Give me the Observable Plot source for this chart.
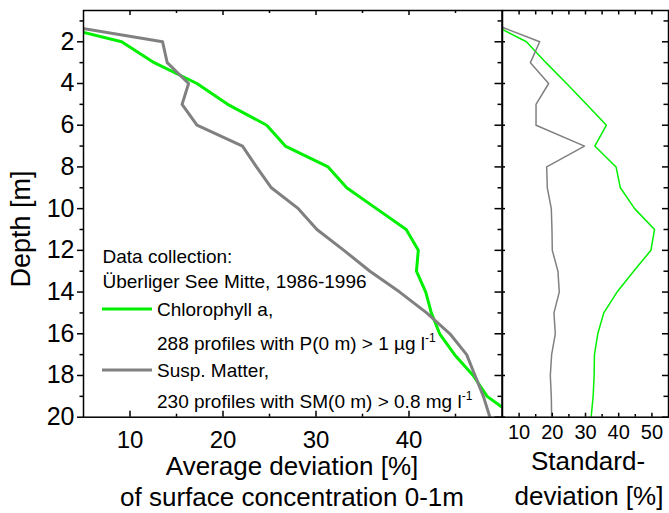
<!DOCTYPE html>
<html><head><meta charset="utf-8">
<script src="https://cdn.jsdelivr.net/npm/d3@7"></script>
<script src="https://cdn.jsdelivr.net/npm/@observablehq/plot@0.6"></script>
<style>
body{margin:0;background:#fff;}
#wrap{position:relative;width:669px;height:513px;overflow:hidden;background:#fff;font-family:"Liberation Sans",Arial,sans-serif;}
#wrap svg{position:absolute;top:0;}
</style></head><body><div id="wrap"></div>
<script>
// ---- data ----
const depths = [1,2,3,4,5,6,7,8,9,10,11,12,13,14,15,16,17,18,19,20];
const chlAvg = [0, 9.1, 12.6, 17.2, 20.5, 24.7, 26.7, 31.3, 33.3, 36.5, 39.7, 41.0, 40.8, 41.8, 42.4, 43.3, 44.9, 46.9, 48.4, 51.5];
const smAvg  = [0, 13.5, 14.0, 16.3, 15.6, 17.2, 22.1, 23.6, 25.2, 28.1, 30.1, 33.0, 35.8, 39.0, 41.9, 44.4, 46.2, 47.1, 48.0, 48.7];
const chlStd = [0, 12.2, 18.1, 24.3, 30.3, 36.3, 32.8, 39.2, 40.5, 44.8, 50.8, 49.7, 44.5, 39.5, 35.5, 33.7, 32.7, 32.6, 32.3, 31.7];
const smStd  = [0, 16.2, 13.4, 18.9, 15.1, 15.1, 29.7, 18.3, 18.5, 19.7, 19.9, 20.0, 21.7, 22.1, 20.5, 20.9, 19.8, 19.4, 19.7, 19.8];

const leftXTicks = [10, 20, 30, 40];
const leftXMinor = [15, 25, 35, 45];
const depthTicks = [2, 4, 6, 8, 10, 12, 14, 16, 18, 20];
const depthMinor = [1, 3, 5, 7, 9, 11, 13, 15, 17, 19];
const rightXTicks = [10, 20, 30, 40, 50];
const rightXMinor = [15, 25, 35, 45];

const GREEN = "#00f000", GRAY = "#808080";
const FONT = "'Liberation Sans', Arial, sans-serif";

const rows = (vals) => depths.map((d, i) => ({depth: d, value: vals[i]}));

// ---- layout ----
const H = 460, MT = 10, MB = 43.3;
const innerH = H - MT - MB;

// tick helpers (lengths in px)
const tTop = (vals, len) => Plot.tickX(vals, {x: d => d, insetBottom: innerH - len, stroke: "black", strokeWidth: 1.5});
const tBottom = (vals, len) => Plot.tickX(vals, {x: d => d, insetTop: innerH - len, stroke: "black", strokeWidth: 1.5});
const tLeftOut = (vals, len, innerW) => Plot.tickY(vals, {y: d => d, insetLeft: -len, insetRight: innerW, stroke: "black", strokeWidth: 1.5});
const tLeftIn = (vals, len, innerW) => Plot.tickY(vals, {y: d => d, insetRight: innerW - len, stroke: "black", strokeWidth: 1.5});
const tRightIn = (vals, len, innerW) => Plot.tickY(vals, {y: d => d, insetLeft: innerW - len, stroke: "black", strokeWidth: 1.5});

// ---- left panel ----
const LW = 503, LML = 83, LMR = 1.5;
const lInnerW = LW - LML - LMR;
const left = Plot.plot({
  width: LW, height: H, marginLeft: LML, marginRight: LMR, marginTop: MT, marginBottom: MB,
  style: {fontFamily: FONT, fontSize: "24px", background: "transparent", color: "black", overflow: "visible"},
  x: {domain: [5, 50], label: null},
  y: {domain: [0.5, 20], reverse: true, label: null},
  marks: [
    Plot.line(rows(chlAvg), {x: "value", y: "depth", stroke: GREEN, strokeWidth: 3, clip: true}),
    Plot.line(rows(smAvg), {x: "value", y: "depth", stroke: GRAY, strokeWidth: 3, clip: true}),
    Plot.frame({stroke: "black", strokeWidth: 1.5}),
    Plot.axisX(leftXTicks, {anchor: "bottom", tickSize: 0, tickPadding: 14, label: null, fontSize: 24}),
    Plot.axisY(depthTicks, {anchor: "left", tickSize: 6, tickPadding: 3, label: null, fontSize: 25, strokeWidth: 1.5}),
    tTop(leftXTicks, 5), tTop(leftXMinor, 3),
    tBottom(leftXTicks, 6), tBottom(leftXMinor, 3),
    tLeftOut(depthMinor, 3.5, lInnerW),
    tRightIn(depthTicks, 7, lInnerW), tRightIn(depthMinor, 4, lInnerW)
  ]
});
left.style.left = "0px";

// ---- right panel ----
const RX = 490, RW = 179, RML = 12, RMR = 1;
const rInnerW = RW - RML - RMR;
const right = Plot.plot({
  width: RW, height: H, marginLeft: RML, marginRight: RMR, marginTop: MT, marginBottom: MB,
  style: {fontFamily: FONT, fontSize: "20px", background: "transparent", color: "black", overflow: "visible"},
  x: {domain: [5, 55], label: null},
  y: {domain: [0.5, 20], reverse: true, label: null, axis: null},
  marks: [
    Plot.line(rows(chlStd), {x: "value", y: "depth", stroke: GREEN, strokeWidth: 1.5, clip: true}),
    Plot.line(rows(smStd), {x: "value", y: "depth", stroke: GRAY, strokeWidth: 1.5, clip: true}),
    Plot.frame({stroke: "black", strokeWidth: 1.5}),
    Plot.axisX(rightXTicks, {anchor: "bottom", tickSize: 0, tickPadding: 8, label: null, fontSize: 20}),
    tTop(rightXTicks, 4.5), tTop(rightXMinor, 4.5),
    tBottom(rightXTicks, 4), tBottom(rightXMinor, 2.7),
    tLeftIn(depthTicks, 3, rInnerW),
    tRightIn(depthTicks, 6, rInnerW), tRightIn(depthMinor, 4.5, rInnerW)
  ]
});
right.style.left = RX + "px";

const wrap = document.getElementById("wrap");
wrap.appendChild(left);
wrap.appendChild(right);

// ---- titles & legend (text overlay) ----
const NS = "http://www.w3.org/2000/svg";
const ov = document.createElementNS(NS, "svg");
ov.setAttribute("width", 669); ov.setAttribute("height", 513);
ov.setAttribute("style", "left:0;top:0;pointer-events:none;font-family:" + FONT);
function txt(str, x, y, size, anchor, extra) {
  const t = document.createElementNS(NS, "text");
  t.setAttribute("x", x); t.setAttribute("y", y);
  t.setAttribute("font-size", size); t.setAttribute("text-anchor", anchor || "start");
  t.setAttribute("fill", "black");
  if (extra) for (const k in extra) t.setAttribute(k, extra[k]);
  t.textContent = str;
  ov.appendChild(t);
  return t;
}
function sup(t, s) {
  const sp = document.createElementNS(NS, "tspan");
  sp.setAttribute("dy", "-8"); sp.setAttribute("font-size", "12");
  sp.textContent = s; t.appendChild(sp);
}
function swatch(color, x1, x2, y) {
  const l = document.createElementNS(NS, "line");
  l.setAttribute("x1", x1); l.setAttribute("x2", x2);
  l.setAttribute("y1", y); l.setAttribute("y2", y);
  l.setAttribute("stroke", color); l.setAttribute("stroke-width", 3);
  ov.appendChild(l);
}
txt("Depth [m]", 0, 0, 27, "middle", {transform: "translate(30,229) rotate(-90)"});
txt("Average deviation [%]", 292, 475, 26, "middle");
txt("of surface concentration 0-1m", 292, 506, 26, "middle");
txt("Standard-", 588, 470, 26, "middle");
txt("deviation [%]", 589, 505, 26, "middle");

txt("Data collection:", 102.5, 263, 19);
txt("Überliger See Mitte, 1986-1996", 102.5, 288, 19);
swatch(GREEN, 102, 152, 309);
txt("Chlorophyll a,", 157, 316, 19);
sup(txt("288 profiles with P(0 m) > 1 µg l", 157, 350, 19), "-1");
swatch(GRAY, 102, 152, 370);
txt("Susp. Matter,", 157, 377, 19);
sup(txt("230 profiles with SM(0 m) > 0.8 mg l", 157, 408, 19), "-1");
wrap.appendChild(ov);
</script>
</body></html>
